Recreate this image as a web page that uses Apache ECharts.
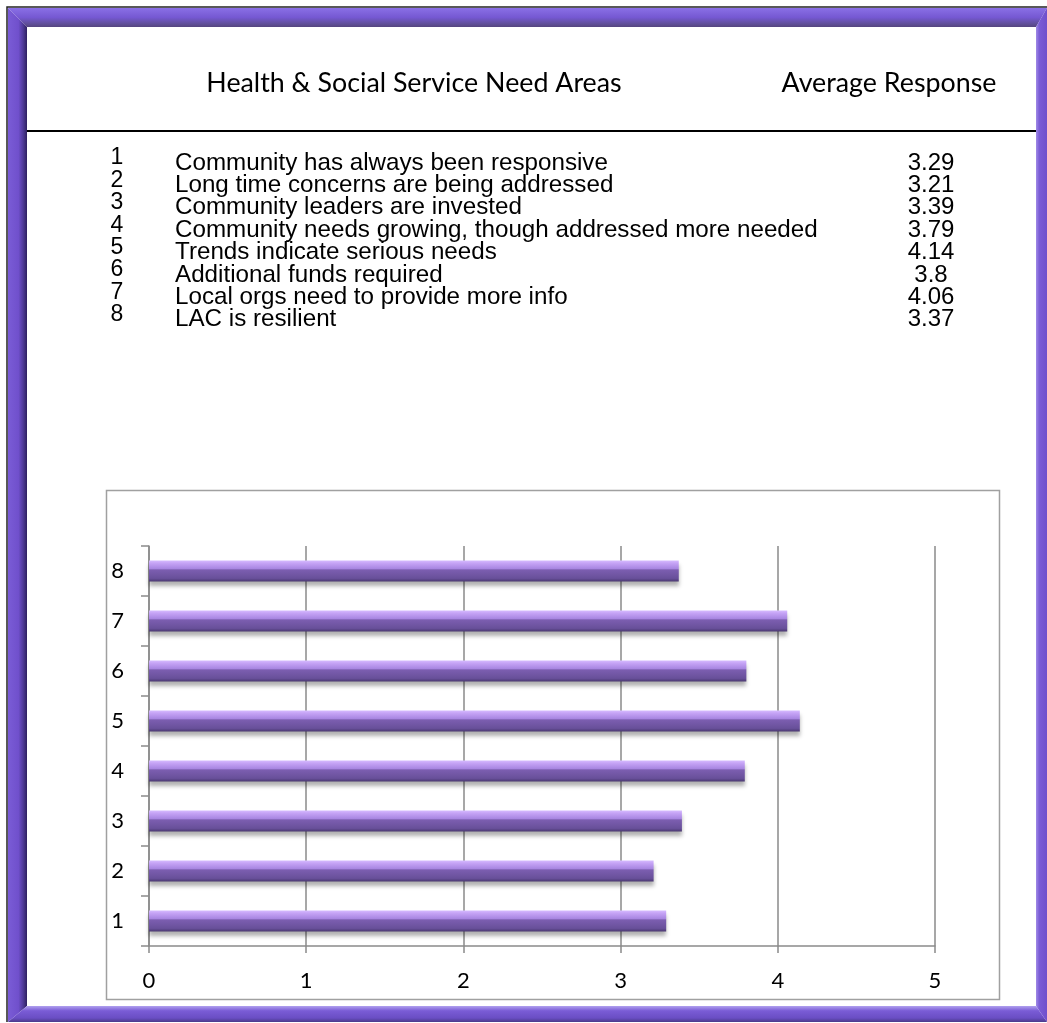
<!DOCTYPE html>
<html>
<head>
<meta charset="utf-8">
<script src="https://cdn.jsdelivr.net/npm/echarts@6/dist/echarts.min.js"></script>
<style>
html,body{margin:0;padding:0;background:#fff;}
#c{width:1047px;height:1023px;}
</style>
</head>
<body>
<div id="c"></div>
<script>
// ---- data ----
var headerLeft = 'Health & Social Service Need Areas';
var headerRight = 'Average Response';
var itemNumbers = ['1','2','3','4','5','6','7','8'];
var itemLabels = [
  'Community has always been responsive',
  'Long time concerns are being addressed',
  'Community leaders are invested',
  'Community needs growing, though addressed more needed',
  'Trends indicate serious needs',
  'Additional funds required',
  'Local orgs need to provide more info',
  'LAC is resilient'
];
var itemValueText = ['3.29','3.21','3.39','3.79','4.14','3.8','4.06','3.37'];
var values = [3.29, 3.21, 3.39, 3.79, 4.14, 3.8, 4.06, 3.37];
var xTicks = [0, 1, 2, 3, 4, 5];

var chart = echarts.init(document.getElementById('c'), null, {renderer:'canvas'});

var graphics = [];
// header
graphics.push({type:'text', x:414, y:83, style:{text:headerLeft, fontFamily:'Lato', fontSize:26.8, fill:'#000', textAlign:'center', textVerticalAlign:'middle'}});
graphics.push({type:'text', x:889, y:83, style:{text:headerRight, fontFamily:'Lato', fontSize:26.8, fill:'#000', textAlign:'center', textVerticalAlign:'middle'}});
graphics.push({type:'line', shape:{x1:27,y1:131,x2:1036,y2:131}, style:{stroke:'#000', lineWidth:2}});
// table rows
for (var i=0;i<itemLabels.length;i++){
  var yy = 163 + i*22.4;
  graphics.push({type:'text', x:117, y:yy-5, style:{text:itemNumbers[i], fontFamily:'Liberation Sans', fontSize:23, fill:'#000', textAlign:'center', textVerticalAlign:'middle'}});
  graphics.push({type:'text', x:175, y:yy, style:{text:itemLabels[i], fontFamily:'Liberation Sans', fontSize:24.2, fill:'#000', textAlign:'left', textVerticalAlign:'middle'}});
  graphics.push({type:'text', x:931, y:yy, style:{text:itemValueText[i], fontFamily:'Liberation Sans', fontSize:24, fill:'#000', textAlign:'center', textVerticalAlign:'middle'}});
}
// chart box
graphics.push({type:'rect', shape:{x:106.5,y:490.5,width:893,height:509}, style:{fill:'none', stroke:'#a0a0a0', lineWidth:1.5}, z:-1});
// frame
function lg(x,y,x2,y2,stops){return {type:'linear',x:x,y:y,x2:x2,y2:y2,colorStops:stops};}
graphics.push({type:'polygon', shape:{points:[[8,8],[1047,8],[1036,27],[27,27]]},
  style:{fill:lg(0,0,0,1,[{offset:0,color:'#8a70e6'},{offset:0.5,color:'#7558d2'},{offset:0.8,color:'#62509e'},{offset:1,color:'#55457f'}])}, z:10});
graphics.push({type:'polygon', shape:{points:[[8,8],[27,27],[27,1006],[8,1022]]},
  style:{fill:lg(0,0,1,0,[{offset:0,color:'#7a5cd6'},{offset:0.55,color:'#7050cc'},{offset:0.8,color:'#4e3a96'},{offset:1,color:'#2e2060'}])}, z:10});
graphics.push({type:'polygon', shape:{points:[[1047,8],[1047,1022],[1036,1006],[1036,27]]},
  style:{fill:lg(0,0,1,0,[{offset:0,color:'#a08ae6'},{offset:0.3,color:'#7a5cd6'},{offset:1,color:'#7050cc'}])}, z:10});
graphics.push({type:'polygon', shape:{points:[[8,1022],[27,1006],[1036,1006],[1047,1022]]},
  style:{fill:lg(0,0,0,1,[{offset:0,color:'#b0a0ee'},{offset:0.3,color:'#7a5cd6'},{offset:0.75,color:'#6a4ec4'},{offset:1,color:'#4a3a8a'}])}, z:10});
graphics.push({type:'polyline', shape:{points:[[7,1022],[7,7],[1047,7]]}, style:{stroke:'#222', lineWidth:1.5, fill:null}, z:11});

var barGrad = {type:'linear',x:0,y:0,x2:0,y2:1,colorStops:[
  {offset:0,color:'#d6bcff'},{offset:0.12,color:'#c6a4f6'},{offset:0.38,color:'#a987e2'},
  {offset:0.45,color:'#7c5eb0'},{offset:0.85,color:'#68509a'},{offset:1,color:'#4a3870'}]};

chart.setOption({
  animation:false,
  backgroundColor:'#fff',
  grid:{left:149, right:112, top:546, bottom:77, containLabel:false},
  xAxis:{type:'value', min:xTicks[0], max:xTicks[xTicks.length-1], interval:1,
    axisLine:{show:true, lineStyle:{color:'#8a8a8a', width:1.5}},
    axisTick:{show:true, length:7, lineStyle:{color:'#8a8a8a', width:1.5}},
    splitLine:{show:true, lineStyle:{color:'#8a8a8a', width:1.5}},
    axisLabel:{margin:24, fontFamily:'Lato', fontSize:22, color:'#000'}},
  yAxis:{type:'category', data:itemNumbers,
    axisLine:{show:true, lineStyle:{color:'#8a8a8a', width:1.5}},
    axisTick:{show:true, length:8, alignWithLabel:false, lineStyle:{color:'#8a8a8a', width:1.5}},
    axisLabel:{margin:25, fontFamily:'Lato', fontSize:22, color:'#000'}},
  series:[{type:'bar', data:values, barWidth:21,
    itemStyle:{color:barGrad, shadowBlur:4, shadowOffsetY:4, shadowColor:'rgba(0,0,0,0.3)'}}],
  graphic:graphics
});
</script>
</body>
</html>
